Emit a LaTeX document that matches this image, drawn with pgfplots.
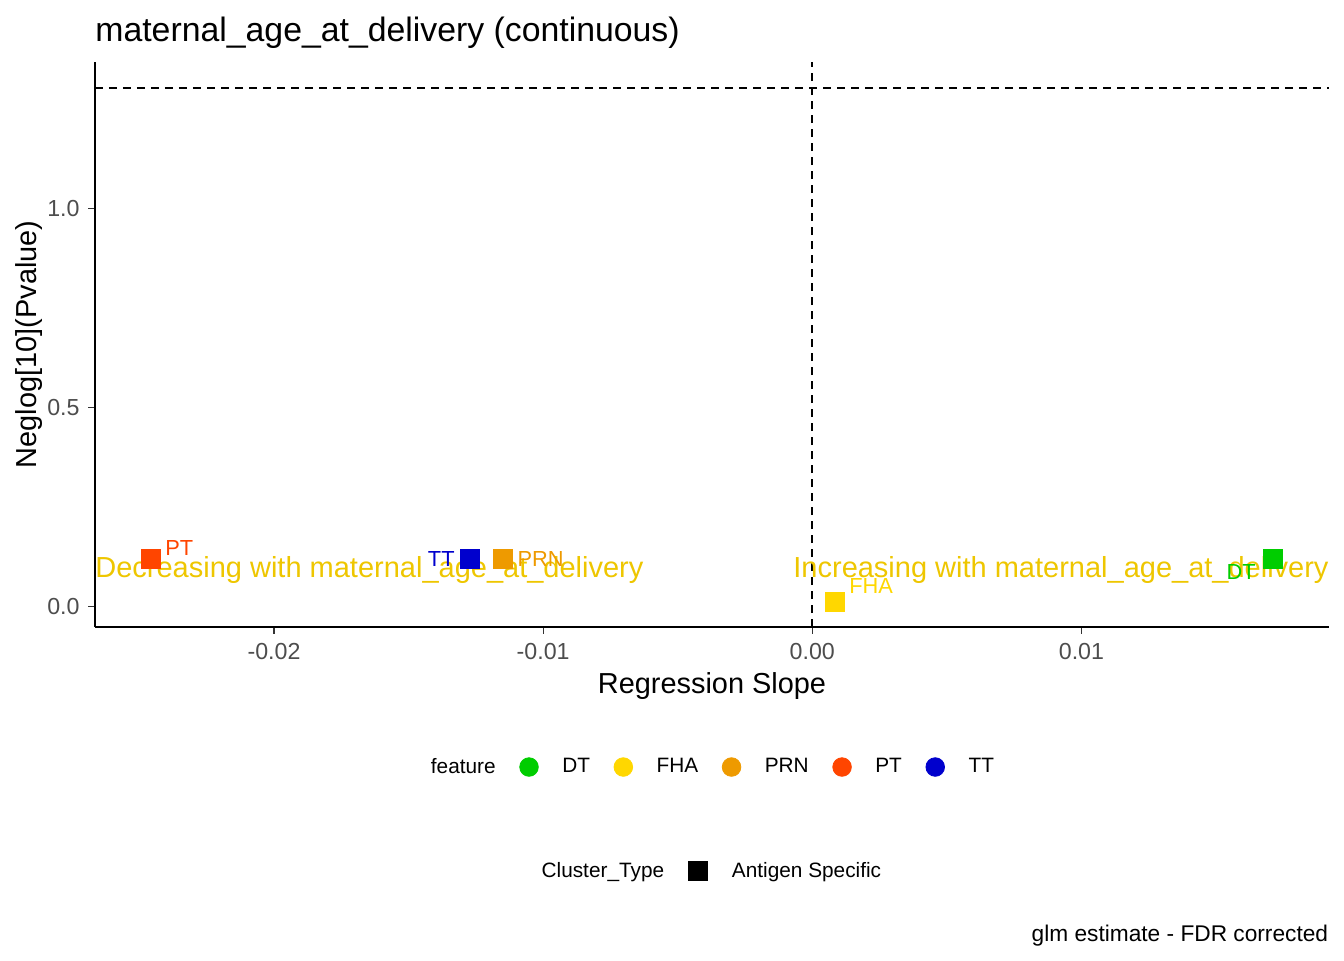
\documentclass[border=0pt]{standalone}
\usepackage{fontspec}
\setmainfont{Liberation Sans}
\usepackage{pgfplots}
\pgfplotsset{compat=1.18}
\definecolor{dtcol}{HTML}{00CD00}
\definecolor{fhacol}{HTML}{FFD700}
\definecolor{prncol}{HTML}{EE9A00}
\definecolor{ptcol}{HTML}{FF4500}
\definecolor{ttcol}{HTML}{0000CD}
\definecolor{anncol}{HTML}{EEC600}
\definecolor{tickgray}{HTML}{4D4D4D}
\definecolor{tickline}{HTML}{333333}
\newcommand{\lab}{\fontsize{10.9}{13}\selectfont}
\newcommand{\ann}{\fontsize{14.5}{17}\selectfont}
\newcommand{\leg}{\fontsize{10.4}{12}\selectfont}
\begin{document}
\begin{tikzpicture}
\path[use as bounding box] (-47.5pt,-166.5pt) rectangle (624.5pt,313.5pt);
\begin{axis}[
  at={(0pt,0pt)}, anchor=south west,
  scale only axis, width=617pt, height=282.65pt,
  xmin=-0.02665, xmax=0.019198, ymin=-0.052, ymax=1.3676,
  axis x line=bottom, axis y line=left,
  axis line style={-, line width=0.85pt, black},
  scaled x ticks=false, scaled y ticks=false,
  xtick={-0.02,-0.01,0,0.01}, xticklabels={-0.02,-0.01,0.00,0.01},
  ytick={0,0.5,1}, yticklabels={0.0,0.5,1.0},
  /pgf/number format/assume math mode=true,
  tick align=outside, major tick length=3.3pt,
  tick style={line width=0.55pt, color=tickline},
  tick label style={font=\fontsize{11.6}{14}\selectfont, text=tickgray},
  xticklabel style={anchor=north, inner sep=0pt, yshift=-4.6pt},
  yticklabel style={anchor=east, inner sep=0pt, xshift=-4.2pt},
  xlabel={Regression Slope},
  xlabel style={at={(axis description cs:0.5,-0.1180)}, anchor=base, inner sep=0pt, font=\fontsize{14.45}{17}\selectfont},
  ylabel={Neglog[10](Pvalue)},
  ylabel style={at={(axis description cs:-0.04741,0.5)}, anchor=base, inner sep=0pt, font=\fontsize{14.45}{17}\selectfont},
  clip=false,
  legend columns=-1,
  legend cell align=left,
  legend image code/.code={\draw[#1] plot coordinates {(0pt,0pt)};},
  legend style={at={(axis description cs:0.2528,-0.2477)}, anchor=west, draw=none, fill=none,
    inner sep=0pt, outer sep=0pt, column sep=12.0pt, font=\leg, nodes={inner sep=0pt}},
]
% reference lines
\addplot[forget plot, black, line width=0.95pt, dash pattern=on 4pt off 3pt] coordinates {(-0.02665,1.30103) (0.019198,1.30103)};
\addplot[forget plot, black, line width=0.95pt, dash pattern=on 4pt off 3pt] coordinates {(0,-0.052) (0,1.3676)};
% points
\addplot[forget plot, ptcol, only marks, mark=square*, mark size=4.75pt, mark options={draw=none, fill=ptcol},
  nodes near coords={PT}, every node near coord/.style={anchor=west, xshift=7.25pt, yshift=5.25pt, inner sep=0pt, text=ptcol, font=\lab}]
  coordinates {(-0.02459,0.1193)};
\addplot[forget plot, ttcol, only marks, mark=square*, mark size=4.75pt, mark options={draw=none, fill=ttcol},
  nodes near coords={TT}, every node near coord/.style={anchor=east, xshift=-7.25pt, yshift=0pt, inner sep=0pt, text=ttcol, font=\lab}]
  coordinates {(-0.012737,0.1193)};
\addplot[forget plot, prncol, only marks, mark=square*, mark size=4.75pt, mark options={draw=none, fill=prncol},
  nodes near coords={PRN}, every node near coord/.style={anchor=west, xshift=7.4pt, yshift=0pt, inner sep=0pt, text=prncol, font=\lab}]
  coordinates {(-0.01151,0.1193)};
\addplot[forget plot, fhacol, only marks, mark=square*, mark size=4.75pt, mark options={draw=none, fill=fhacol},
  nodes near coords={FHA}, every node near coord/.style={anchor=west, xshift=7.25pt, yshift=7.9pt, inner sep=0pt, text=fhacol, font=\lab}]
  coordinates {(0.000825,0.0118)};
\addplot[forget plot, dtcol, only marks, mark=square*, mark size=4.75pt, mark options={draw=none, fill=dtcol},
  nodes near coords={DT}, every node near coord/.style={anchor=east, xshift=-8.3pt, yshift=-6.75pt, inner sep=0pt, text=dtcol, font=\lab}]
  coordinates {(0.017105,0.1193)};
% annotations
\node[anchor=base west, inner sep=0pt, text=anncol, font=\ann] at (axis cs:-0.02665,0.0716) {Decreasing with maternal\_age\_at\_delivery};
\node[anchor=base east, inner sep=0pt, text=anncol, font=\ann] at (axis cs:0.019198,0.0716) {Increasing with maternal\_age\_at\_delivery};
% legend: feature
\addlegendimage{empty legend}\addlegendentry{feature}
\addlegendimage{only marks, mark=*, mark size=4.65pt, dtcol, mark options={draw=none, fill=dtcol}}\addlegendentry{DT}
\addlegendimage{only marks, mark=*, mark size=4.65pt, fhacol, mark options={draw=none, fill=fhacol}}\addlegendentry{FHA}
\addlegendimage{only marks, mark=*, mark size=4.65pt, prncol, mark options={draw=none, fill=prncol}}\addlegendentry{PRN}
\addlegendimage{only marks, mark=*, mark size=4.65pt, ptcol, mark options={draw=none, fill=ptcol}}\addlegendentry{PT}
\addlegendimage{only marks, mark=*, mark size=4.65pt, ttcol, mark options={draw=none, fill=ttcol}}\addlegendentry{TT}
\end{axis}
\begin{axis}[
  at={(0pt,0pt)}, anchor=south west,
  scale only axis, width=617pt, height=282.65pt,
  hide axis, xmin=0, xmax=1, ymin=0, ymax=1,
  legend columns=-1,
  legend cell align=left,
  legend image code/.code={\draw[#1] plot coordinates {(0pt,0pt)};},
  legend style={at={(axis description cs:0.3420,-0.4316)}, anchor=west, draw=none, fill=none,
    inner sep=0pt, outer sep=0pt, column sep=12.3pt, font=\fontsize{10.4}{12}\selectfont, nodes={inner sep=0pt}},
]
\addlegendimage{empty legend}\addlegendentry{Cluster\_Type}
\addlegendimage{only marks, mark=square*, mark size=4.65pt, black, mark options={draw=none, fill=black}}\addlegendentry{Antigen Specific}
\end{axis}
\node[anchor=base west, inner sep=0pt, font=\fontsize{16.9}{20}\selectfont] at (0pt,292.7pt) {maternal\_age\_at\_delivery (continuous)};
\node[anchor=base east, inner sep=0pt, font=\fontsize{11.35}{13}\selectfont] at (616.75pt,-157pt) {glm estimate - FDR corrected};
\end{tikzpicture}
\end{document}
